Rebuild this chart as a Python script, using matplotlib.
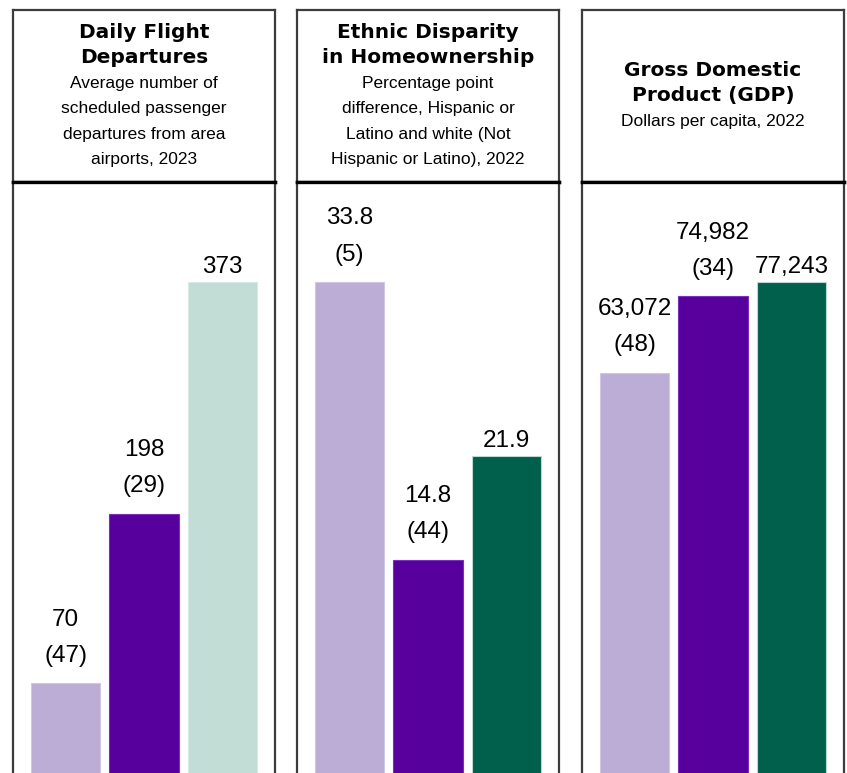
import matplotlib
matplotlib.use("Agg")
import matplotlib.pyplot as plt

# Panel content
titles = [
    ["Daily Flight", "Departures"],
    ["Ethnic Disparity", "in Homeownership"],
    ["Gross Domestic", "Product (GDP)"],
]
subtitles = [
    ["Average number of", "scheduled passenger", "departures from area", "airports, 2023"],
    ["Percentage point", "difference, Hispanic or", "Latino and white (Not", "Hispanic or Latino), 2022"],
    ["Dollars per capita, 2022"],
]
flight_values = [70, 198, 373]
flight_ranks = [47, 29, None]
homeownership_values = [33.8, 14.8, 21.9]
homeownership_ranks = [5, 44, None]
gdp_values = [63072, 74982, 77243]
gdp_ranks = [48, 34, None]
value_formats = ["{:,.0f}", "{:.1f}", "{:,.0f}"]

all_values = [flight_values, homeownership_values, gdp_values]
all_ranks = [flight_ranks, homeownership_ranks, gdp_ranks]

LIGHT_PURPLE = "#bcadd6"
DARK_PURPLE = "#58009d"
LIGHT_TEAL = "#c1ddd6"
DARK_GREEN = "#00604c"
bar_colors = [
    [LIGHT_PURPLE, DARK_PURPLE, LIGHT_TEAL],
    [LIGHT_PURPLE, DARK_PURPLE, DARK_GREEN],
    [LIGHT_PURPLE, DARK_PURPLE, DARK_GREEN],
]
edge_colors = {
    LIGHT_PURPLE: "#d2c6e6",
    DARK_PURPLE: "#7a2fc0",
    LIGHT_TEAL: "#d6ebe5",
    DARK_GREEN: "#bcd8d0",
}

W, H = 847, 773
fig = plt.figure(figsize=(W / 100, H / 100), dpi=100)
fig.patch.set_facecolor("white")

panel_left = [13, 297, 582]
panel_width = 262
header_top, header_bottom, chart_bottom = 10, 182, 776

FRAME = "#3c3c3c"
label_font = "Liberation Sans"
LABEL_SIZE = 17.5


def fx(px):
    return px / W


def fy(py):
    return (H - py) / H


for i in range(3):
    x0 = panel_left[i]

    # Header box with title and subtitle
    hax = fig.add_axes([fx(x0), fy(header_bottom), fx(panel_width),
                        (header_bottom - header_top) / H])
    hax.set_xticks([])
    hax.set_yticks([])
    for side, sp in hax.spines.items():
        sp.set_color(FRAME)
        sp.set_linewidth(1.6)
    hax.spines["bottom"].set_color("black")
    hax.spines["bottom"].set_linewidth(2.4)

    lines = [(t, True) for t in titles[i]] + [(s, False) for s in subtitles[i]]
    n = len(lines)
    box_h = header_bottom - header_top
    pitch = 25.5
    for k, (txt, bold) in enumerate(lines):
        ypx = box_h / 2 + (n - 1) / 2 * pitch - k * pitch
        if bold:
            hax.text(0.5, ypx / box_h, txt, ha="center", va="center",
                     transform=hax.transAxes, fontsize=14.5,
                     fontweight="bold", family="DejaVu Sans", color="black")
        else:
            hax.text(0.5, ypx / box_h, txt, ha="center", va="center",
                     transform=hax.transAxes, fontsize=12.5,
                     family=label_font, color="black")

    # Chart box with bars
    ax = fig.add_axes([fx(x0), fy(chart_bottom), fx(panel_width),
                       (chart_bottom - header_bottom) / H])
    vals = all_values[i]
    cols = bar_colors[i]
    xs = list(range(len(vals)))
    ax.bar(xs, vals, width=0.89, color=cols,
           edgecolor=[edge_colors[c] for c in cols], linewidth=0.8)
    ax.set_xlim(-0.67, 2.67)
    ax.set_ylim(0, max(vals) * 1.2025)
    ax.set_xticks([])
    ax.set_yticks([])
    for side, sp in ax.spines.items():
        sp.set_color(FRAME)
        sp.set_linewidth(1.6)
    ax.spines["top"].set_color("black")
    ax.spines["top"].set_linewidth(2.4)

    for x, v, r in zip(xs, vals, all_ranks[i]):
        vtxt = value_formats[i].format(v)
        if r is None:
            ax.annotate(vtxt, (x, v), xytext=(0, 6.5), textcoords="offset points",
                        ha="center", va="baseline", fontsize=LABEL_SIZE,
                        family=label_font, color="black")
        else:
            ax.annotate(f"({r})", (x, v), xytext=(0, 15.5), textcoords="offset points",
                        ha="center", va="baseline", fontsize=LABEL_SIZE,
                        family=label_font, color="black")
            ax.annotate(vtxt, (x, v), xytext=(0, 41.5), textcoords="offset points",
                        ha="center", va="baseline", fontsize=LABEL_SIZE,
                        family=label_font, color="black")

fig.savefig("out.png", dpi=100, facecolor="white")
